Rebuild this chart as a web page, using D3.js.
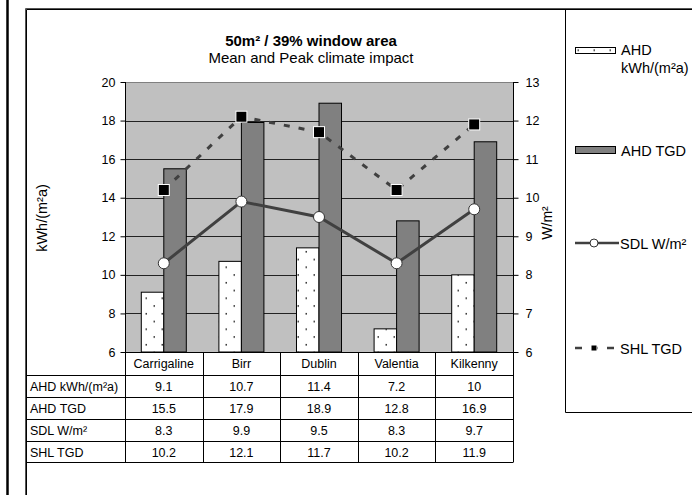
<!DOCTYPE html>
<html><head><meta charset="utf-8">
<script src="https://cdn.jsdelivr.net/npm/d3@7"></script>
<style>
html,body{margin:0;padding:0;background:#fff;}
svg{display:block;font-family:"Liberation Sans",Arial,sans-serif;}
</style></head>
<body>
<svg id="c" width="692" height="495"></svg>
<script>
const categories = ["Carrigaline","Birr","Dublin","Valentia","Kilkenny"];
const ahdKwh = [9.1, 10.7, 11.4, 7.2, 10];
const ahdTgd = [15.5, 17.9, 18.9, 12.8, 16.9];
const sdlW = [8.3, 9.9, 9.5, 8.3, 9.7];
const shlTgd = [10.2, 12.1, 11.7, 10.2, 11.9];
const leftTicks = [6,8,10,12,14,16,18,20];
const rightTicks = [6,7,8,9,10,11,12,13];
const rowLabels = ["AHD kWh/(m²a)","AHD TGD","SDL W/m²","SHL TGD"];
const tableRows = [ahdKwh, ahdTgd, sdlW, shlTgd];
const titleText = "50m² / 39% window area";
const subtitleText = "Mean and Peak climate impact";

const svg = d3.select("#c");
const P = {l:125, r:513, t:82, b:352};
const FF = "Liberation Sans, Arial, sans-serif";

// pattern
const defs = svg.append("defs");
const pat = defs.append("pattern").attr("id","dots").attr("patternUnits","userSpaceOnUse")
  .attr("width",16).attr("height",15.5).attr("x",1).attr("y",0);
pat.append("rect").attr("width",16).attr("height",15.5).attr("fill","#fff");
pat.append("rect").attr("x",0.5).attr("y",3).attr("width",1.5).attr("height",1.5).attr("fill","#222");
pat.append("rect").attr("x",8.5).attr("y",10.75).attr("width",1.5).attr("height",1.5).attr("fill","#222");

// frames
svg.append("line").attr("x1",7.5).attr("x2",7.5).attr("y1",0).attr("y2",495).attr("stroke","#000").attr("stroke-width",2.5);
svg.append("path").attr("d","M25.5,495V8.5H692").attr("fill","none").attr("stroke","#555").attr("stroke-width",1);
svg.append("path").attr("d","M26.5,495V9.5H692").attr("fill","none").attr("stroke","#000").attr("stroke-width",1);
// legend box
svg.append("path").attr("d","M565.5,9V412.5H692").attr("fill","none").attr("stroke","#000").attr("stroke-width",1);

const x = d3.scaleBand().domain(categories).range([P.l,P.r]);
const yL = d3.scaleLinear().domain([6,20]).range([P.b,P.t]);
const yR = d3.scaleLinear().domain([6,13]).range([P.b,P.t]);
const bw = x.bandwidth()*0.29;
const cx = c => x(c)+x.bandwidth()/2;

// plot bg
svg.append("rect").attr("x",P.l).attr("y",P.t).attr("width",P.r-P.l).attr("height",P.b-P.t).attr("fill","#c0c0c0");
// grid
svg.append("g").selectAll("line").data(leftTicks.slice(1)).join("line")
  .attr("x1",P.l).attr("x2",P.r).attr("y1",d=>Math.round(yL(d))+0.5).attr("y2",d=>Math.round(yL(d))+0.5)
  .attr("stroke",d=>d===20?"#808080":"#222").attr("stroke-width",1);

// bars
svg.append("g").selectAll("rect").data(categories).join("rect")
  .attr("x",(c)=>cx(c)-bw).attr("y",(c,i)=>yL(ahdKwh[i])).attr("width",bw).attr("height",(c,i)=>P.b-yL(ahdKwh[i]))
  .attr("fill","url(#dots)").attr("stroke","#000").attr("stroke-width",1);
svg.append("g").selectAll("rect").data(categories).join("rect")
  .attr("x",(c)=>cx(c)).attr("y",(c,i)=>yL(ahdTgd[i])).attr("width",bw).attr("height",(c,i)=>P.b-yL(ahdTgd[i]))
  .attr("fill","#808080").attr("stroke","#000").attr("stroke-width",1);

// axes
const axL = d3.axisLeft(yL).tickValues(leftTicks).tickSize(5).tickPadding(5).tickFormat(d3.format("d"));
const gL = svg.append("g").attr("transform",`translate(${P.l+0.5},0)`).call(axL);
const axR = d3.axisRight(yR).tickValues(rightTicks).tickSize(5).tickPadding(7).tickFormat(d3.format("d"));
const gR = svg.append("g").attr("transform",`translate(${P.r+0.5},0)`).call(axR);
[gL,gR].forEach(g=>{
  g.select(".domain").attr("stroke","#000").attr("d", `M0,${P.t}V${P.b+0.5}`);
  g.selectAll("text").attr("font-size",12.5).attr("fill","#000").attr("font-family",FF);
  g.selectAll("line").attr("stroke","#000");
});
svg.append("line").attr("x1",P.l).attr("x2",P.r).attr("y1",P.b+0.5).attr("y2",P.b+0.5).attr("stroke","#000");

// lines
const lineFn = d3.line().x((d,i)=>cx(categories[i])).y(d=>yR(d));
svg.append("path").datum(sdlW).attr("d",lineFn).attr("fill","none").attr("stroke","#404040").attr("stroke-width",3);
svg.append("path").datum(shlTgd).attr("d",lineFn).attr("fill","none").attr("stroke","#404040").attr("stroke-width",3).attr("stroke-dasharray","6,9");
svg.append("g").selectAll("circle").data(sdlW).join("circle")
  .attr("cx",(d,i)=>cx(categories[i])).attr("cy",d=>yR(d)).attr("r",5.5).attr("fill","#fff").attr("stroke","#333").attr("stroke-width",1);
svg.append("g").selectAll("rect").data(shlTgd).join("rect")
  .attr("x",(d,i)=>cx(categories[i])-5.5).attr("y",d=>yR(d)-5.5).attr("width",11).attr("height",11)
  .attr("fill","#000").attr("stroke","#fff").attr("stroke-width",1);

// titles
svg.append("text").attr("x",311).attr("y",46).attr("text-anchor","middle").attr("font-size",15).attr("font-weight","bold").text(titleText);
svg.append("text").attr("x",311).attr("y",63).attr("text-anchor","middle").attr("font-size",15).text(subtitleText);
svg.append("text").attr("transform","translate(47,218) rotate(-90)").attr("text-anchor","middle").attr("font-size",14.5).text("kWh/(m²a)");
svg.append("text").attr("transform","translate(552,223) rotate(-90)").attr("text-anchor","middle").attr("font-size",14).text("W/m²");

// table
const rowH = [352,375,397,419,441,462];
const tg = svg.append("g");
const colEdges = categories.map(c=>x(c)).concat([P.r]);
colEdges.forEach(e=>tg.append("line").attr("x1",Math.round(e)+0.5).attr("x2",Math.round(e)+0.5).attr("y1",352).attr("y2",462).attr("stroke","#000"));
tg.append("line").attr("x1",26.5).attr("x2",26.5).attr("y1",375).attr("y2",462).attr("stroke","#000");
rowH.slice(1).forEach(y=>tg.append("line").attr("x1",26).attr("x2",P.r+0.5).attr("y1",y+0.5).attr("y2",y+0.5).attr("stroke","#000"));
categories.forEach(c=>tg.append("text").attr("x",cx(c)).attr("y",368).attr("text-anchor","middle").attr("font-size",12.5).text(c));
rowLabels.forEach((lab,r)=>{
  tg.append("text").attr("x",30).attr("y",rowH[r+1]+16).attr("font-size",12.5).text(lab);
  tableRows[r].forEach((v,i)=>tg.append("text").attr("x",cx(categories[i])).attr("y",rowH[r+1]+16).attr("text-anchor","middle").attr("font-size",12.5).text(v));
});

// legend
const lg = svg.append("g").attr("font-size",14.5);
lg.append("rect").attr("x",575.5).attr("y",47.5).attr("width",40).attr("height",6).attr("fill","url(#dots)").attr("stroke","#000");
lg.append("text").attr("x",621).attr("y",55).text("AHD");
lg.append("text").attr("x",621).attr("y",73).text("kWh/(m²a)");
lg.append("rect").attr("x",575.5).attr("y",146.5).attr("width",40).attr("height",7).attr("fill","#808080").attr("stroke","#000");
lg.append("text").attr("x",621).attr("y",155.5).text("AHD TGD");
lg.append("line").attr("x1",575).attr("x2",619).attr("y1",243).attr("y2",243).attr("stroke","#404040").attr("stroke-width",2.5);
lg.append("circle").attr("cx",594).attr("cy",243).attr("r",4).attr("fill","#fff").attr("stroke","#333");
lg.append("text").attr("x",620).attr("y",248.5).text("SDL W/m²");
lg.append("line").attr("x1",575).attr("x2",619).attr("y1",348).attr("y2",348).attr("stroke","#404040").attr("stroke-width",2.5).attr("stroke-dasharray","7,9");
lg.append("rect").attr("x",591).attr("y",345).attr("width",6).attr("height",6).attr("fill","#000").attr("stroke","#fff").attr("stroke-width",1);
lg.append("text").attr("x",620).attr("y",353.5).text("SHL TGD");
</script>
</body></html>
